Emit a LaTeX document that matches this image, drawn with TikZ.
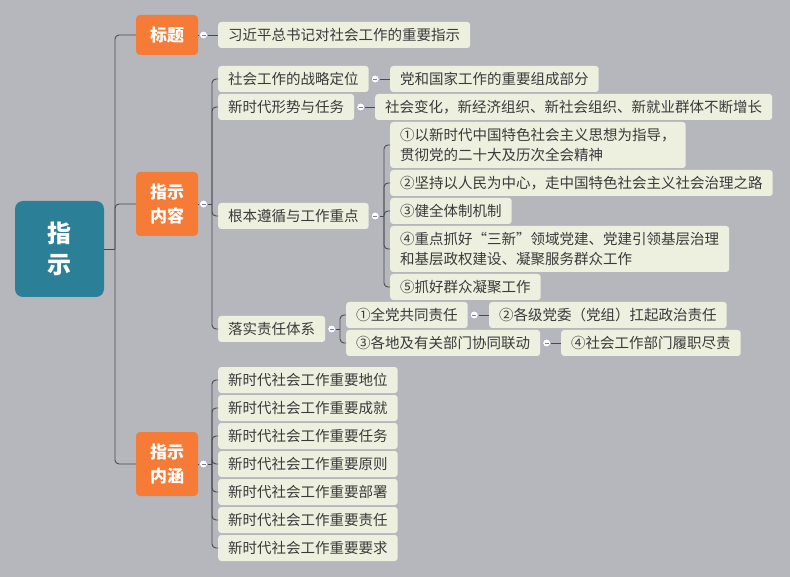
\documentclass[tikz,border=0pt]{standalone}
\usepackage{fontspec}
\setmainfont{Noto Sans CJK SC}
\usepackage{xcolor}
\usetikzlibrary{positioning}

\definecolor{bgc}{HTML}{B6B7BC}
\definecolor{orng}{HTML}{F57B37}
\definecolor{teal}{HTML}{2B7F97}
\definecolor{leafc}{HTML}{EDEFDF}
\definecolor{txt}{HTML}{3A3A3A}
\definecolor{lnk}{HTML}{4A4A4E}
\definecolor{foldb}{HTML}{A3A8D6}

\begin{document}
\begin{tikzpicture}[
    x=1pt, y=-1pt,
    every node/.style={font=\fontsize{14.5}{20}\selectfont, text=txt},
    rootbox/.style={fill=teal, rounded corners=8, text=white,
      font=\bfseries\fontsize{24}{31}\selectfont, align=center,
      minimum width=89, minimum height=96, inner sep=0},
    topic/.style={fill=orng, rounded corners=4, text=white,
      font=\bfseries\fontsize{17}{24}\selectfont, align=center,
      minimum width=62, inner sep=0},
    leaf/.style={fill=leafc, rounded corners=3, anchor=west,
      minimum height=26, inner xsep=10, inner ysep=3, align=left},
    fold/.style={circle, draw=foldb, fill=white, minimum size=8, inner sep=0,
      line width=0.6pt,
      path picture={\draw[gray, line width=0.8pt]
        ([xshift=-2pt]path picture bounding box.center) --
        ([xshift=2pt]path picture bounding box.center);}},
    link/.style={draw=lnk, line width=0.9pt},
    elbow/.style={link, rounded corners=4pt}
  ]
  \fill[bgc] (0,0) rectangle (790,577);
  \useasboundingbox (0,0) rectangle (790,577);

  % root and main topics
  \node[rootbox] (root) at (59.5,249) {指\\示};
  \node[topic, minimum height=40] (title) at (167,35) {标题};
  \node[topic, minimum height=64] (cont) at (167,204) {指示\\内容};
  \node[topic, minimum height=64] (mean) at (167,464) {指示\\内涵};
  \coordinate (rk) at (115,249);
  \draw[link] (root) -- (rk);
  \foreach \t in {title, cont, mean}
    \draw[elbow] (rk) |- (\t.west);

  % title
  \node[fold, right=1pt of title] (ftitle) {};
  \node[leaf] (tl) at (218,35) {习近平总书记对社会工作的重要指示};
  \draw[link] (title) -- (ftitle) -- (tl);

  % contents
  \node[fold, right=1pt of cont] (fcont) {};
  \node[leaf] (s1) at (218,79) {社会工作的战略定位};
  \node[leaf] (s2) at (218,107) {新时代形势与任务};
  \node[leaf] (s3) at (218,216) {根本遵循与工作重点};
  \node[leaf] (s4) at (218,329) {落实责任体系};
  \coordinate (ck) at (212,204);
  \draw[link] (cont) -- (fcont) -- (ck);
  \foreach \s in {s1, s2, s3, s4}
    \draw[elbow] (ck) |- (\s.west);

  \node[fold, right=2pt of s1] (fs1) {};
  \node[leaf] (d1) at (390,79) {党和国家工作的重要组成部分};
  \draw[link] (fs1) -- (d1);
  \node[fold, right=2pt of s2] (fs2) {};
  \node[leaf] (d2) at (375,107) {社会变化，新经济组织、新社会组织、新就业群体不断增长};
  \draw[link] (fs2) -- (d2);

  \node[fold, right=2pt of s3] (fs3) {};
  \node[leaf, minimum height=46] (p1) at (390,145)
    {①以新时代中国特色社会主义思想为指导，\\贯彻党的二十大及历次全会精神};
  \node[leaf] (p2) at (390,183) {②坚持以人民为中心，走中国特色社会主义社会治理之路};
  \node[leaf] (p3) at (390,211) {③健全体制机制};
  \node[leaf, minimum height=46] (p4) at (390,249)
    {④重点抓好“三新”领域党建、党建引领基层治理\\和基层政权建设、凝聚服务群众工作};
  \node[leaf] (p5) at (390,287) {⑤抓好群众凝聚工作};
  \coordinate (pk) at (384,216);
  \draw[link] (fs3) -- (pk);
  \foreach \p in {p1, p2, p3, p4, p5}
    \draw[elbow] (pk) |- (\p.west);

  \node[fold, right=2pt of s4] (fs4) {};
  \node[leaf] (r1) at (346,315) {①全党共同责任};
  \node[leaf] (r3) at (346,343) {③各地及有关部门协同联动};
  \coordinate (qk) at (340,329);
  \draw[link] (fs4) -- (qk);
  \foreach \r in {r1, r3}
    \draw[elbow] (qk) |- (\r.west);
  \node[fold, right=2pt of r1] (fr1) {};
  \node[leaf] (r2) at (489,315) {②各级党委（党组）扛起政治责任};
  \draw[link] (fr1) -- (r2);
  \node[fold, right=2pt of r3] (fr3) {};
  \node[leaf] (r4) at (561,343) {④社会工作部门履职尽责};
  \draw[link] (fr3) -- (r4);

  % meaning
  \node[fold, right=1pt of mean] (fmean) {};
  \coordinate (mk) at (212,464);
  \draw[link] (mean) -- (fmean) -- (mk);
  \foreach \w [count=\i] in {地位, 成就, 任务, 原则, 部署, 责任, 要求} {
    \node[leaf] (m\i) at (218,{352+28*\i}) {新时代社会工作重要\w};
    \draw[elbow] (mk) |- (m\i.west);
  }
\end{tikzpicture}
\end{document}
